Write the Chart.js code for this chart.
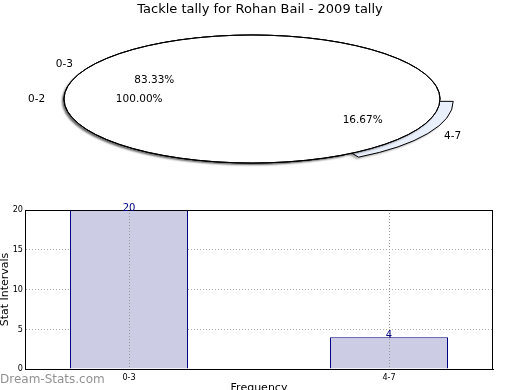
<!DOCTYPE html>
<html>
<head>
<meta charset="utf-8">
<script src="https://cdn.jsdelivr.net/npm/chart.js@4.4.0/dist/chart.umd.min.js"></script>
<style>
  html, body { margin: 0; padding: 0; background: #fff; width: 520px; height: 390px; overflow: hidden; }
  canvas { position: absolute; left: 0; }
  #pieBase, #pieTop { top: 0; }
  #barChart { top: 180px; }
</style>
</head>
<body>
<canvas id="pieBase" width="520" height="185"></canvas>
<canvas id="pieTop" width="520" height="185"></canvas>
<canvas id="barChart" width="520" height="220"></canvas>
<script>
const titleText = 'Tackle tally for Rohan Bail - 2009 tally';
const categories = ['0-3', '4-7'];
const counts = [20, 4];
const overlayLabels = ['0-2'];
const overlayValues = [100];
const yTicks = [0, 5, 10, 15, 20];

const STRETCH = 188 / 64;   // pie is drawn as a flat ellipse
const SHIFT_X = -8;         // pie sits a bit left of the title
const labelFont = '10.5px "DejaVu Sans"';
const tickFont = { family: '"Liberation Sans Narrow", "DejaVu Sans Condensed", sans-serif', size: 9 };

// squash the pie into an ellipse, keep the stroke width even
const ellipsePlugin = {
    id: 'ellipse',
    beforeDatasetsDraw(chart, args, opts) {
        const ctx = chart.ctx;
        const arc = chart.getDatasetMeta(0).data[0];
        ctx.save();
        ctx.translate(arc.x + SHIFT_X, arc.y);
        ctx.scale(STRETCH, 1);
        ctx.translate(-arc.x, -arc.y);
        ctx.shadowColor = opts.shadow || 'rgba(0,0,0,0.3)';
        ctx.shadowOffsetX = -2;
        ctx.shadowOffsetY = 2;
        ctx.shadowBlur = 2;
        const stroke = CanvasRenderingContext2D.prototype.stroke;
        ctx.stroke = function () {
            this.save();
            this.setTransform(1, 0, 0, 1, 0, 0);
            this.shadowColor = 'rgba(0,0,0,0)';
            stroke.call(this);
            this.restore();
        };
    },
    afterDatasetsDraw(chart) {
        delete chart.ctx.stroke;
        chart.ctx.restore();
    }
};

function drawPieLabels(ctx, chart, index) {
    const meta = chart.getDatasetMeta(index);
    const values = chart.data.datasets[index].data;
    const total = values.reduce((a, b) => a + b, 0);
    ctx.save();
    ctx.font = labelFont;
    ctx.fillStyle = '#000';
    ctx.textBaseline = 'middle';
    meta.data.forEach((arc, i) => {
        const mid = (arc.startAngle + arc.endAngle) / 2;
        const circ = arc.endAngle - arc.startAngle;
        const off = (arc.options.offset || 0) / 4 * (2 - Math.sin(Math.min(Math.PI, circ)));
        const r = arc.outerRadius;
        const c = Math.cos(mid), s = Math.sin(mid);
        const cx = arc.x + SHIFT_X;
        ctx.textAlign = c > 0.01 ? 'left' : (c < -0.01 ? 'right' : 'center');
        ctx.fillText(chart.data.labels[i], cx + c * (1.1 * r + off) * STRETCH, arc.y + s * (1.1 * r + off));
        ctx.textAlign = 'center';
        ctx.fillText((values[i] / total * 100).toFixed(2) + '%',
            cx + c * (0.6 * r + off) * STRETCH, arc.y + s * (0.6 * r + off));
    });
    ctx.restore();
}

function pieOptions(rotation, titleColor, shadow) {
    return {
        responsive: false,
        animation: false,
        rotation: rotation,
        radius: 64,
        layout: { padding: { left: 0, right: 0, top: 0, bottom: 14.6 } },
        plugins: {
            legend: { display: false },
            tooltip: { enabled: false },
            ellipse: { shadow: shadow },
            title: {
                display: true,
                text: titleText,
                color: titleColor,
                font: { family: '"DejaVu Sans"', size: 13, weight: 'normal' },
                padding: { top: 2, bottom: 10 }
            }
        }
    };
}

const pieBase = new Chart(document.getElementById('pieBase'), {
    type: 'pie',
    data: {
        labels: categories,
        datasets: [{
            data: counts,
            backgroundColor: ['#ffffff', '#e9effb'],
            borderColor: '#000',
            borderWidth: 1,
            borderJoinStyle: 'miter',
            offset: [0, 18],
            hoverOffset: 0,
            clip: false
        }]
    },
    options: pieOptions(150, '#000', 'rgba(0,0,0,0.3)'),
    plugins: [ellipsePlugin]
});

// the single 0-2 slice: a hair-thin outline ring on top of a white fill
const pieTop = new Chart(document.getElementById('pieTop'), {
    type: 'pie',
    data: {
        labels: overlayLabels,
        datasets: [{
            data: overlayValues,
            backgroundColor: 'rgba(0,0,0,0)',
            borderColor: '#000',
            borderWidth: 1,
            weight: 0.0002,
            hoverOffset: 0,
            clip: false
        }, {
            data: overlayValues,
            backgroundColor: '#ffffff',
            borderWidth: 0,
            hoverOffset: 0,
            clip: false
        }]
    },
    options: pieOptions(90, 'rgba(0,0,0,0)', 'rgba(0,0,0,0.4)'),
    plugins: [ellipsePlugin, {
        id: 'allLabels',
        afterDraw(chart) {
            drawPieLabels(chart.ctx, pieBase, 0);
            drawPieLabels(chart.ctx, chart, 0);
        }
    }]
});

// bar chart: frame, dotted category lines over the bars, value labels, watermark
const barExtras = {
    id: 'barExtras',
    afterDatasetsDraw(chart) {
        const ctx = chart.ctx;
        const a = chart.chartArea;
        const xs = chart.scales.x;
        ctx.save();
        ctx.strokeStyle = '#999999';
        ctx.lineWidth = 1;
        ctx.setLineDash([1, 2]);
        xs.ticks.forEach(t => {
            const px = Math.round(xs.getPixelForValue(t.value)) + 0.5;
            ctx.beginPath();
            ctx.moveTo(px, a.top);
            ctx.lineTo(px, a.bottom);
            ctx.stroke();
        });
        ctx.restore();
    },
    afterDraw(chart) {
        const ctx = chart.ctx;
        const a = chart.chartArea;
        ctx.save();
        ctx.strokeStyle = '#000';
        ctx.lineWidth = 1;
        ctx.strokeRect(Math.round(a.left) + 0.5, Math.round(a.top) + 0.5,
            Math.round(a.right - a.left) - 1, Math.round(a.bottom - a.top));
        ctx.font = '10px "DejaVu Sans"';
        ctx.fillStyle = '#000080';
        ctx.textAlign = 'center';
        ctx.textBaseline = 'alphabetic';
        chart.getDatasetMeta(0).data.forEach((bar, i) => {
            ctx.fillText(String(counts[i]), bar.x, bar.y + 1);
        });
        ctx.font = '12px "DejaVu Sans"';
        ctx.fillStyle = '#929292';
        ctx.textAlign = 'left';
        ctx.textBaseline = 'middle';
        ctx.fillText('Dream-Stats.com', 0, 200);
        ctx.restore();
    }
};

new Chart(document.getElementById('barChart'), {
    type: 'bar',
    data: {
        datasets: [{
            data: counts.map((v, i) => ({ x: i, y: v })),
            backgroundColor: '#ccccE5',
            borderColor: '#000080',
            borderWidth: 1,
            barPercentage: 118 / 260,
            categoryPercentage: 1
        }]
    },
    options: {
        responsive: false,
        animation: false,
        layout: { padding: { top: 30, right: 27, left: 0, bottom: 0 } },
        plugins: { legend: { display: false }, tooltip: { enabled: false } },
        scales: {
            x: {
                type: 'linear',
                min: -0.4,
                max: 1.4,
                offset: false,
                afterBuildTicks: s => { s.ticks = categories.map((c, i) => ({ value: i })); },
                afterFit: s => { s.height = 31; },
                ticks: { callback: v => categories[v], font: tickFont, color: '#000', padding: 3, maxRotation: 0 },
                grid: { color: '#999999', drawTicks: false, offset: false },
                border: { color: '#000', width: 1, dash: [1, 2] },
                title: {
                    display: true, text: 'Frequency', color: '#000',
                    font: { family: '"DejaVu Sans"', size: 11 },
                    padding: { top: 0, bottom: 5 }
                }
            },
            y: {
                min: yTicks[0],
                max: yTicks[yTicks.length - 1],
                afterBuildTicks: s => { s.ticks = yTicks.map(v => ({ value: v })); },
                afterFit: s => { s.width = 25; },
                ticks: { font: tickFont, color: '#000', padding: 2 },
                grid: { color: '#aaaaaa', drawTicks: false },
                border: { color: '#000', width: 1, dash: [1, 2] },
                title: {
                    display: true, text: 'Stat Intervals', color: '#000',
                    font: { family: '"DejaVu Sans"', size: 11, lineHeight: 1 },
                    padding: { top: 0, bottom: 0 }
                }
            }
        }
    },
    plugins: [barExtras]
});
</script>
</body>
</html>
